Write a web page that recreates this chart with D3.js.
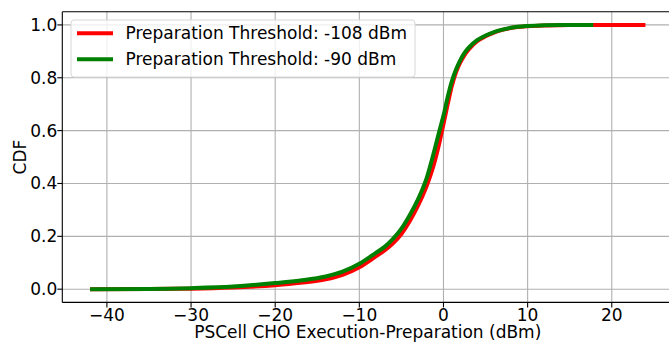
<!DOCTYPE html>
<html>
<head>
<meta charset="utf-8">
<script src="https://cdn.jsdelivr.net/npm/d3@7"></script>
<style>
  body { margin: 0; background: #fff; }
  text { font-family: "DejaVu Sans", sans-serif; fill: #000; }
</style>
</head>
<body>
<div id="canvas"></div>
<script>
"use strict";

let svgWidth = 669;
let svgHeight = 342;

/* Data */
let xRed = [-42, -35, -30, -25, -20, -17, -14, -12, -10, -8, -7, -6, -5, -4, -3, -2.5, -2, -1.5, -1, -0.5, 0, 0.5, 1, 1.5, 2, 2.5, 3, 4, 5, 6, 7, 8, 10, 12, 14, 18, 24];
let cdfRed = [0, 0.001, 0.002, 0.006, 0.015, 0.024, 0.037, 0.054, 0.083, 0.125, 0.147, 0.174, 0.209, 0.258, 0.318, 0.352, 0.39, 0.435, 0.488, 0.552, 0.625, 0.70, 0.77, 0.822, 0.858, 0.886, 0.907, 0.938, 0.957, 0.971, 0.981, 0.988, 0.995, 0.998, 0.999, 1, 1];

let xGreen = [-42, -35, -30, -25, -20, -17, -14, -12, -10, -8, -7, -6, -5, -4, -3, -2.5, -2, -1.5, -1, -0.5, 0, 0.5, 1, 1.5, 2, 2.5, 3, 4, 5, 6, 7, 8, 10, 12, 14, 17.8];
let cdfGreen = [0, 0.001, 0.004, 0.010, 0.023, 0.033, 0.048, 0.066, 0.096, 0.138, 0.16, 0.19, 0.229, 0.281, 0.342, 0.378, 0.42, 0.475, 0.535, 0.597, 0.657, 0.727, 0.787, 0.832, 0.867, 0.894, 0.914, 0.942, 0.96, 0.973, 0.982, 0.989, 0.996, 0.999, 1, 1];

let xTicks = [-40, -30, -20, -10, 0, 10, 20];
let yTicks = [0.0, 0.2, 0.4, 0.6, 0.8, 1.0];

let seriesNames = ["Preparation Threshold: -108 dBm", "Preparation Threshold: -90 dBm"];
let seriesColors = ["#ff0000", "#008000"];

/* Layout */
let plotLeft = 62.3, plotRight = 673.2, plotTop = 11.7, plotBottom = 302.4;
let fontSize = "17px";

let svg = d3.select("#canvas")
  .append("svg")
  .attr("width", svgWidth)
  .attr("height", svgHeight);

let xScale = d3.scaleLinear().domain([-45.3, 27.3]).range([plotLeft, plotRight]);
let yScale = d3.scaleLinear().domain([-0.05, 1.05]).range([plotBottom, plotTop]);

/* Grid */
let grid = svg.append("g");
xTicks.forEach(t => {
  grid.append("line")
    .attr("x1", xScale(t)).attr("x2", xScale(t))
    .attr("y1", plotTop).attr("y2", plotBottom)
    .attr("stroke", "#b0b0b0").attr("stroke-width", 1.1);
});
yTicks.forEach(t => {
  grid.append("line")
    .attr("x1", plotLeft).attr("x2", plotRight)
    .attr("y1", yScale(t)).attr("y2", yScale(t))
    .attr("stroke", "#b0b0b0").attr("stroke-width", 1.1);
});

/* Curves */
let series = [
  { xs: xRed, ys: cdfRed },
  { xs: xGreen, ys: cdfGreen }
];

let line = d3.line()
  .x(d => xScale(d[0]))
  .y(d => yScale(d[1]))
  .curve(d3.curveMonotoneX);

series.forEach((s, i) => {
  let pts = s.xs.map((x, j) => [x, s.ys[j]]);
  svg.append("path")
    .datum(pts)
    .attr("fill", "none")
    .attr("stroke", seriesColors[i])
    .attr("stroke-width", 4)
    .attr("stroke-linejoin", "round")
    .attr("d", line);
});

/* Spines */
svg.append("line")
  .attr("x1", plotLeft).attr("x2", plotLeft).attr("y1", plotTop).attr("y2", plotBottom)
  .attr("stroke", "#000").attr("stroke-width", 1.1);
svg.append("line")
  .attr("x1", plotLeft).attr("x2", plotRight).attr("y1", plotBottom).attr("y2", plotBottom)
  .attr("stroke", "#000").attr("stroke-width", 1.1);
svg.append("line")
  .attr("x1", plotLeft).attr("x2", plotRight).attr("y1", plotTop).attr("y2", plotTop)
  .attr("stroke", "#000").attr("stroke-width", 1.1);

/* Ticks and labels */
xTicks.forEach(t => {
  svg.append("line")
    .attr("x1", xScale(t)).attr("x2", xScale(t))
    .attr("y1", plotBottom).attr("y2", plotBottom + 5)
    .attr("stroke", "#000").attr("stroke-width", 1.1);
  svg.append("text")
    .attr("x", xScale(t))
    .attr("y", 320.5)
    .attr("text-anchor", "middle")
    .attr("font-size", fontSize)
    .text(t < 0 ? "\u2212" + Math.abs(t) : String(t));
});

yTicks.forEach(t => {
  svg.append("line")
    .attr("x1", plotLeft - 5).attr("x2", plotLeft)
    .attr("y1", yScale(t)).attr("y2", yScale(t))
    .attr("stroke", "#000").attr("stroke-width", 1.1);
  svg.append("text")
    .attr("x", plotLeft - 5)
    .attr("y", yScale(t) + 6)
    .attr("text-anchor", "end")
    .attr("font-size", fontSize)
    .text(t.toFixed(1));
});

/* Axis labels */
svg.append("text")
  .attr("x", (plotLeft + plotRight) / 2)
  .attr("y", 337.5)
  .attr("text-anchor", "middle")
  .attr("font-size", fontSize)
  .text("PSCell CHO Execution-Preparation (dBm)");

svg.append("text")
  .attr("transform", `translate(26, ${(plotTop + plotBottom) / 2}) rotate(-90)`)
  .attr("text-anchor", "middle")
  .attr("font-size", fontSize)
  .text("CDF");

/* Legend */
let legend = svg.append("g");
legend.append("rect")
  .attr("x", 71).attr("y", 20)
  .attr("width", 344).attr("height", 57)
  .attr("rx", 3)
  .attr("fill", "#fff").attr("fill-opacity", 0.8)
  .attr("stroke", "#d8d8d8").attr("stroke-width", 1);

seriesNames.forEach((name, i) => {
  let yPos = 33.3 + i * 26;
  legend.append("line")
    .attr("x1", 77).attr("x2", 113)
    .attr("y1", yPos).attr("y2", yPos)
    .attr("stroke", seriesColors[i])
    .attr("stroke-width", 4);
  legend.append("text")
    .attr("x", 125.5)
    .attr("y", yPos + 6)
    .attr("font-size", fontSize)
    .text(name);
});
</script>
</body>
</html>
